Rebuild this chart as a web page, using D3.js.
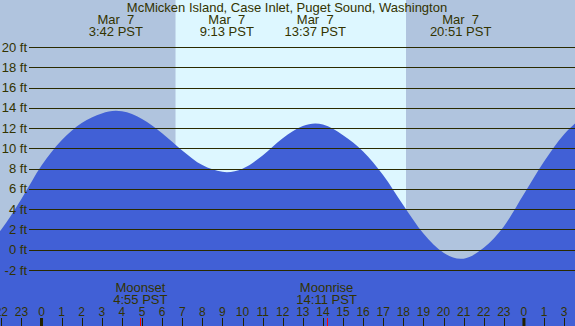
<!DOCTYPE html>
<html>
<head>
<meta charset="utf-8">
<script src="https://cdn.jsdelivr.net/npm/d3@7"></script>
<style>
  html, body { margin: 0; padding: 0; background: #b0c4de; }
  svg { display: block; }
  text { font-family: "Liberation Sans", Arial, sans-serif; fill: #333300; }
</style>
</head>
<body>
<svg id="chart"></svg>
<script>
// hours are relative to Mar 7 00:00 PST
const tideHours = [-3, -2, -1, 0, 1, 2, 3, 3.7, 4, 5, 6, 7, 8, 9, 9.22, 10, 11, 12, 13, 13.62,
  14, 15, 16, 17, 18, 19, 20, 20.85, 21, 22, 23, 24, 25, 26, 27];
const tideFeet = [-0.2, 2.0, 5.0, 8.3, 10.8, 12.5, 13.45, 13.7, 13.65, 12.9, 11.5, 9.8, 8.35, 7.7, 7.65, 8.0, 9.3, 11.0, 12.2, 12.45,
  12.35, 11.3, 9.7, 7.35, 4.4, 1.6, -0.3, -0.9, -0.88, 0.2, 2.3, 5.5, 8.7, 11.4, 13.2];

const eventHours = [3.7, 9.217, 13.617, 20.85];
const eventDates = ["Mar  7", "Mar  7", "Mar  7", "Mar  7"];
const eventTimes = ["3:42 PST", "9:13 PST", "13:37 PST", "20:51 PST"];

const moonHours = [4.917, 14.183];
const moonNames = ["Moonset", "Moonrise"];
const moonTimes = ["4:55 PST", "14:11 PST"];

const sunrise = 6.667;
const sunset = 18.133;

const feetTicks = [-2, 0, 2, 4, 6, 8, 10, 12, 14, 16, 18, 20];
const hourTicks = [-2, -1, 0, 1, 2, 3, 4, 5, 6, 7, 8, 9, 10, 11, 12, 13, 14, 15, 16, 17, 18, 19, 20, 21, 22, 23, 24, 25, 26];
const hourLabels = ["22", "23", "0", "1", "2", "3", "4", "5", "6", "7", "8", "9", "10", "11", "12",
  "13", "14", "15", "16", "17", "18", "19", "20", "21", "22", "23", "0", "1", "3"];
const midnights = [0, 24];

const title = "McMicken Island, Case Inlet, Puget Sound, Washington";

document.addEventListener("DOMContentLoaded", function() {
  const width = 575;
  const height = 326;

  const x = d3.scaleLinear().domain([-2.065, 26.54]).range([0, width]);
  const y = d3.scaleLinear().domain([-2, 20]).range([270, 47]);

  const svg = d3.select("#chart")
      .attr("width", width)
      .attr("height", height);

  // night background + daylight band
  svg.append("rect")
      .attr("width", width).attr("height", height)
      .attr("fill", "#b0c4de");
  svg.append("rect")
      .attr("x", x(sunrise))
      .attr("width", x(sunset) - x(sunrise))
      .attr("height", height)
      .attr("fill", "#ddf7ff");

  const tide = tideHours.map((h, i) => ({h: h, ft: tideFeet[i]}));

  const area = d3.area()
      .x(d => x(d.h))
      .y0(height)
      .y1(d => y(d.ft))
      .curve(d3.curveMonotoneX);

  svg.append("path")
      .datum(tide)
      .attr("d", area)
      .attr("fill", "#4160d6");

  // height grid
  svg.append("g")
      .selectAll("line")
      .data(feetTicks)
      .enter().append("line")
      .attr("x1", 29).attr("x2", width)
      .attr("y1", d => Math.round(y(d)) + 0.5)
      .attr("y2", d => Math.round(y(d)) + 0.5)
      .attr("stroke", "#2a2a00")
      .attr("stroke-width", 1.2);

  svg.append("g")
      .selectAll("text")
      .data(feetTicks)
      .enter().append("text")
      .attr("x", 27)
      .attr("y", d => y(d) + 4.5)
      .attr("text-anchor", "end")
      .attr("font-size", 13)
      .text(d => d + " ft");

  // title and hi/lo labels
  svg.append("text")
      .attr("x", 287).attr("y", 12)
      .attr("text-anchor", "middle")
      .attr("font-size", 13)
      .text(title);

  const ev = svg.append("g")
      .selectAll("g")
      .data(eventHours)
      .enter().append("g");
  ev.append("text")
      .attr("x", d => x(d)).attr("y", 24)
      .attr("text-anchor", "middle")
      .attr("font-size", 13)
      .style("white-space", "pre")
      .text((d, i) => eventDates[i]);
  ev.append("text")
      .attr("x", d => x(d)).attr("y", 36)
      .attr("text-anchor", "middle")
      .attr("font-size", 13)
      .text((d, i) => eventTimes[i]);

  // moon labels
  const moon = svg.append("g")
      .selectAll("g")
      .data(moonHours)
      .enter().append("g");
  moon.append("text")
      .attr("x", d => x(d)).attr("y", 292)
      .attr("text-anchor", "middle")
      .attr("font-size", 13)
      .text((d, i) => moonNames[i]);
  moon.append("text")
      .attr("x", d => x(d)).attr("y", 304)
      .attr("text-anchor", "middle")
      .attr("font-size", 13)
      .text((d, i) => moonTimes[i]);

  // hour axis
  const axis = svg.append("g");
  axis.selectAll("line.hour")
      .data(hourTicks)
      .enter().append("line")
      .attr("class", "hour")
      .attr("x1", d => Math.round(x(d)) + 0.5)
      .attr("x2", d => Math.round(x(d)) + 0.5)
      .attr("y1", 318).attr("y2", height)
      .attr("stroke", "#222200");
  axis.selectAll("rect.midnight")
      .data(midnights)
      .enter().append("rect")
      .attr("class", "midnight")
      .attr("x", d => x(d) - 1.5)
      .attr("y", 318)
      .attr("width", 3).attr("height", 8)
      .attr("fill", "#222200");
  axis.selectAll("line.moon")
      .data(moonHours)
      .enter().append("line")
      .attr("class", "moon")
      .attr("x1", d => Math.round(x(d)) + 0.5)
      .attr("x2", d => Math.round(x(d)) + 0.5)
      .attr("y1", 318).attr("y2", height)
      .attr("stroke", "#ff0000");
  axis.selectAll("text")
      .data(hourTicks)
      .enter().append("text")
      .attr("x", d => x(d))
      .attr("y", 316)
      .attr("text-anchor", "middle")
      .attr("font-size", 12)
      .text((d, i) => hourLabels[i]);
});
</script>
</body>
</html>
